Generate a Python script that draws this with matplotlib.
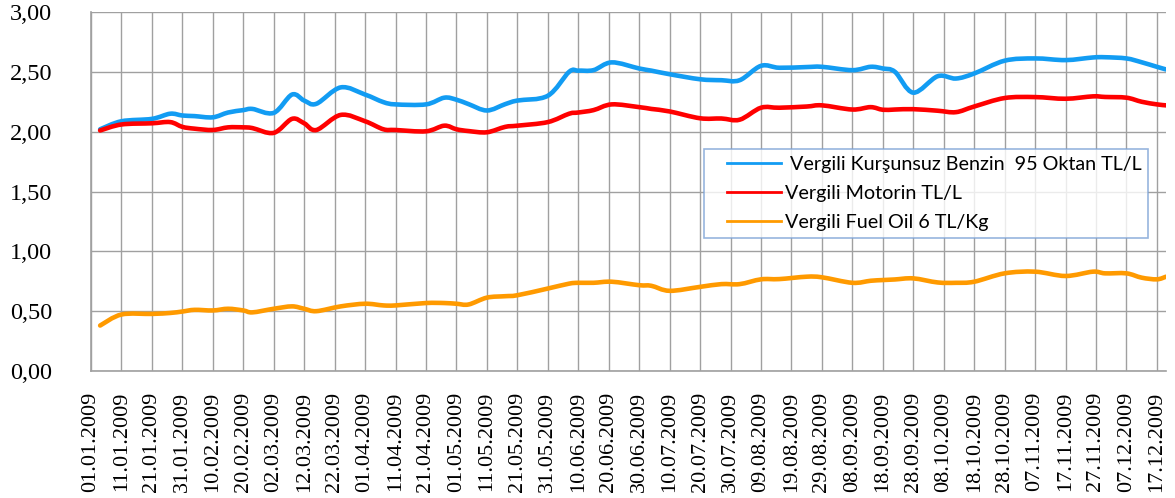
import numpy as np
import pandas as pd
import matplotlib
matplotlib.use('Agg')
import matplotlib.pyplot as plt
import matplotlib.dates as mdates
from matplotlib.path import Path
from matplotlib.patches import PathPatch
from matplotlib.lines import Line2D
from matplotlib.legend_handler import HandlerLine2D

# readings (TL) taken off the reference chart
dates = ['2009-01-04', '2009-01-11', '2009-01-21', '2009-01-27', '2009-01-31', '2009-02-04',
         '2009-02-10', '2009-02-15', '2009-02-20', '2009-02-23', '2009-03-02', '2009-03-08',
         '2009-03-12', '2009-03-16', '2009-03-24', '2009-04-01', '2009-04-07', '2009-04-11',
         '2009-04-21', '2009-04-27', '2009-05-01', '2009-05-05', '2009-05-11', '2009-05-17',
         '2009-05-21', '2009-05-31', '2009-06-07', '2009-06-10', '2009-06-15', '2009-06-21',
         '2009-06-30', '2009-07-04', '2009-07-10', '2009-07-20', '2009-07-27', '2009-08-02',
         '2009-08-09', '2009-08-15', '2009-08-24', '2009-08-29', '2009-09-08', '2009-09-14',
         '2009-09-18', '2009-09-22', '2009-09-28', '2009-10-06', '2009-10-12', '2009-10-18',
         '2009-10-28', '2009-11-07', '2009-11-17', '2009-11-26', '2009-11-30', '2009-12-07',
         '2009-12-12', '2009-12-17', '2009-12-20']

benzin = [2.02, 2.087, 2.107, 2.15, 2.135, 2.13, 2.12, 2.16, 2.18, 2.19, 2.157, 2.31,
          2.26, 2.233, 2.37, 2.31, 2.247, 2.228, 2.228, 2.284, 2.267, 2.23, 2.177, 2.23,
          2.26, 2.30, 2.50, 2.51, 2.514, 2.579, 2.528, 2.51, 2.48, 2.438, 2.43, 2.43,
          2.55, 2.534, 2.54, 2.542, 2.514, 2.542, 2.528, 2.50, 2.326, 2.463, 2.444, 2.486,
          2.593, 2.612, 2.598, 2.62, 2.622, 2.612, 2.58, 2.542, 2.52]

motorin = [2.01, 2.06, 2.07, 2.08, 2.04, 2.025, 2.014, 2.036, 2.036, 2.03, 1.99, 2.107,
           2.07, 2.014, 2.14, 2.087, 2.02, 2.014, 2.003, 2.05, 2.02, 2.005, 1.995, 2.04,
           2.05, 2.08, 2.15, 2.16, 2.18, 2.228, 2.205, 2.19, 2.169, 2.112, 2.11, 2.10,
           2.20, 2.20, 2.21, 2.22, 2.185, 2.205, 2.183, 2.185, 2.188, 2.175, 2.163, 2.21,
           2.281, 2.289, 2.275, 2.295, 2.29, 2.284, 2.25, 2.228, 2.22]

fuel_oil = [0.38, 0.472, 0.477, 0.485, 0.497, 0.511, 0.506, 0.52, 0.506, 0.49, 0.52, 0.54,
            0.52, 0.50, 0.54, 0.562, 0.548, 0.548, 0.568, 0.568, 0.562, 0.556, 0.613, 0.625,
            0.633, 0.689, 0.73, 0.737, 0.737, 0.746, 0.717, 0.712, 0.67, 0.703, 0.726, 0.726,
            0.766, 0.768, 0.788, 0.783, 0.737, 0.754, 0.76, 0.765, 0.774, 0.74, 0.737, 0.746,
            0.816, 0.83, 0.794, 0.83, 0.816, 0.816, 0.78, 0.766, 0.788]

labels = [' Vergili Kurşunsuz Benzin  95 Oktan TL/L', 'Vergili Motorin TL/L', 'Vergili Fuel Oil 6 TL/Kg']
colors = ['#129CF3', '#FF0000', '#FF9A00']

plt.rcParams['font.family'] = ['Liberation Serif', 'DejaVu Serif']


def smooth_path(xs, ys):
    # Excel-style "smoothed line": cubic bezier through every reading
    verts = [(xs[0], ys[0])]
    codes = [Path.MOVETO]
    n = len(xs)
    for i in range(n - 1):
        x0, y0 = (xs[i - 1], ys[i - 1]) if i > 0 else (xs[i], ys[i])
        x3, y3 = (xs[i + 2], ys[i + 2]) if i + 2 < n else (xs[i + 1], ys[i + 1])
        c1 = (xs[i] + (xs[i + 1] - x0) / 6, ys[i] + (ys[i + 1] - y0) / 6)
        c2 = (xs[i + 1] - (x3 - xs[i]) / 6, ys[i + 1] - (y3 - ys[i]) / 6)
        verts += [c1, c2, (xs[i + 1], ys[i + 1])]
        codes += [Path.CURVE4] * 3
    return Path(verts, codes)


class IndentedLine(HandlerLine2D):
    # legend line that leaves some blank room at its left end
    def create_artists(self, legend, orig_handle, xdescent, ydescent, width, height, fontsize, trans):
        arts = super().create_artists(legend, orig_handle, xdescent, ydescent, width, height, fontsize, trans)
        for a in arts:
            xd = np.asarray(a.get_xdata(), dtype=float)
            if len(xd) > 1:
                a.set_xdata(np.linspace(xd[0] + 0.23 * (xd[-1] - xd[0]), xd[-1], len(xd)))
        return arts


x = mdates.date2num(pd.to_datetime(dates))

fig = plt.figure(figsize=(11.75, 4.98), dpi=100)
ax = fig.add_axes([91 / 1175, 1 - 371 / 498, (1166 - 91) / 1175, (371 - 12) / 498])

handles = []
for vals, lab, col in zip([benzin, motorin, fuel_oil], labels, colors):
    ax.add_patch(PathPatch(smooth_path(list(x), vals), fill=False, edgecolor=col, lw=3.3,
                           joinstyle='round', capstyle='round', zorder=3))
    handles.append(Line2D([], [], color=col, lw=2.0, label=lab))

ax.set_ylim(0, 3)
ax.set_yticks([0, 0.5, 1, 1.5, 2, 2.5, 3])
ax.set_yticklabels(['0,00', '0,50', '1,00', '1,50', '2,00', '2,50', '3,00'], fontsize=17.5)

ticks = pd.date_range('2009-01-01', '2009-12-17', freq='10D')
ax.set_xlim(pd.Timestamp('2009-01-01'), pd.Timestamp('2009-12-20'))
ax.set_xticks(ticks)
ax.xaxis.set_major_formatter(mdates.DateFormatter('%d.%m.%Y'))
plt.setp(ax.get_xticklabels(), rotation=90, fontsize=16)

ax.tick_params(axis='x', length=0, pad=15)
ax.tick_params(axis='y', length=0, pad=28)
ax.grid(True, color='#A0A0A0', lw=1)
ax.set_axisbelow(True)
for s in ['top', 'right']:
    ax.spines[s].set_visible(False)
for s in ['left', 'bottom']:
    ax.spines[s].set_color('#A0A0A0')
    ax.spines[s].set_linewidth(1.2)

leg = ax.legend(handles=handles, loc='upper left',
                bbox_to_anchor=((704 - 91) / 1075, (371 - 149) / 359),
                borderaxespad=0, frameon=True, fancybox=False, handlelength=3.55,
                borderpad=0.35, labelspacing=0.62, handletextpad=0.2,
                handler_map={Line2D: IndentedLine()},
                prop={'family': ['Lato', 'DejaVu Sans'], 'size': 14.2})
leg.get_frame().set_edgecolor('#7DA3D6')
leg.get_frame().set_linewidth(1.2)
leg.set_zorder(5)

fig.savefig('out.png', dpi=100)
